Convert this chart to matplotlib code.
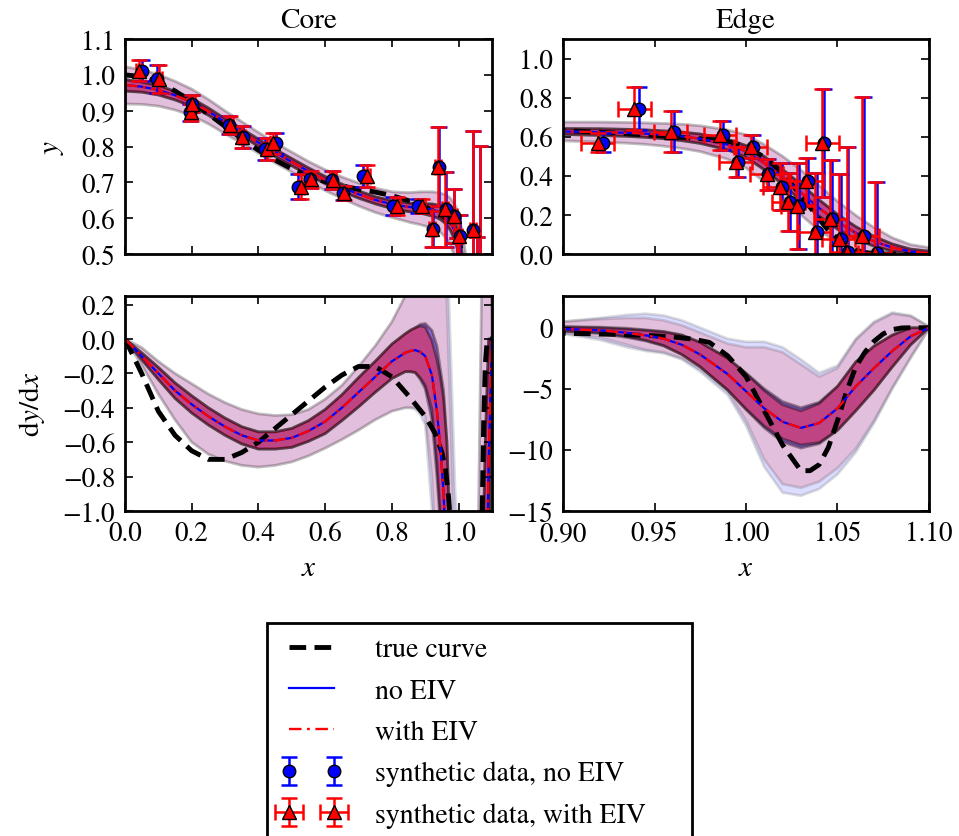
import numpy as np
import matplotlib.pyplot as plt
from matplotlib.ticker import MultipleLocator

plt.rcParams['font.family'] = 'STIXGeneral'
plt.rcParams['mathtext.fontset'] = 'stix'
plt.rcParams['font.size'] = 20
plt.rcParams['axes.linewidth'] = 2
plt.rcParams['lines.scale_dashes'] = False

# synthetic measurements (shared by the core and edge views)
x_pts = [0.050, 0.097, 0.195, 0.200, 0.313, 0.353, 0.420, 0.453, 0.520, 0.555,
         0.620, 0.654, 0.714, 0.804, 0.879, 0.922, 0.9417, 0.9608, 0.9873, 0.9958,
         1.0037, 1.0122, 1.0195, 1.024, 1.029, 1.034, 1.0386, 1.0428, 1.0471,
         1.0517, 1.056, 1.0645, 1.0714]
x_pts_eiv = [0.042, 0.102, 0.198, 0.202, 0.315, 0.350, 0.425, 0.445, 0.527, 0.557,
             0.625, 0.656, 0.724, 0.814, 0.889, 0.919, 0.939, 0.9589, 0.9858, 0.9945,
             1.0026, 1.0113, 1.0185, 1.023, 1.028, 1.033, 1.0376, 1.0418, 1.0461,
             1.0507, 1.055, 1.0635, 1.0704]
y_pts = [1.012, 0.988, 0.895, 0.920, 0.859, 0.826, 0.793, 0.809, 0.688, 0.708,
         0.706, 0.671, 0.718, 0.634, 0.634, 0.570, 0.744, 0.625, 0.607, 0.471,
         0.549, 0.407, 0.344, 0.266, 0.248, 0.373, 0.112, 0.567, 0.181,
         0.078, 0.008, 0.092, 0.004]
y_err = [0.030, 0.040, 0.025, 0.025, 0.025, 0.030, 0.030, 0.030, 0.035, 0.025,
         0.025, 0.020, 0.030, 0.025, 0.020, 0.050, 0.110, 0.105, 0.075, 0.075,
         0.060, 0.080, 0.120, 0.150, 0.220, 0.120, 0.300, 0.275, 0.300,
         0.330, 0.540, 0.710, 0.365]
x_err = 0.009

# true profile and its slope
x_true = [0.0, 0.05, 0.1, 0.15, 0.2, 0.25, 0.3, 0.35, 0.4, 0.45, 0.5, 0.55, 0.6,
          0.65, 0.7, 0.75, 0.8, 0.85, 0.9, 0.93, 0.95, 0.96, 0.97, 0.975, 0.98,
          0.99, 1.0, 1.01, 1.02, 1.03, 1.035, 1.04, 1.045, 1.05, 1.055, 1.06,
          1.065, 1.07, 1.075, 1.08, 1.085, 1.09, 1.1]
y_true = [1.0, 0.995, 0.979, 0.955, 0.925, 0.891, 0.856, 0.822, 0.790, 0.762,
          0.738, 0.718, 0.702, 0.690, 0.681, 0.673, 0.663, 0.649, 0.632, 0.618,
          0.607, 0.601, 0.594, 0.590, 0.586, 0.575, 0.550, 0.495, 0.415, 0.300,
          0.240, 0.178, 0.122, 0.078, 0.044, 0.021, 0.008, 0.002, 0.0, 0.0,
          0.0, 0.0, 0.0]
dy_true = [0.0, -0.2, -0.42, -0.56, -0.65, -0.7, -0.7, -0.66, -0.6, -0.52,
           -0.44, -0.36, -0.28, -0.21, -0.16, -0.16, -0.22, -0.33, -0.45, -0.55,
           -0.66, -0.75, -0.92, -1.05, -1.2, -2.3, -4.0, -6.8, -9.6, -11.7,
           -11.7, -11.2, -9.8, -7.6, -5.2, -3.2, -2.0, -1.1, -0.5, -0.15,
           -0.02, 0.0, 0.0]

# profile fits evaluated on a common grid
x_fit = [0.0, 0.05, 0.1, 0.15, 0.2, 0.25, 0.3, 0.35, 0.4, 0.45, 0.5, 0.55, 0.6,
         0.65, 0.7, 0.75, 0.8, 0.84, 0.855, 0.87, 0.885, 0.9, 0.92, 0.935, 0.945,
         0.955, 0.965, 0.975, 0.99, 1.0, 1.01, 1.02, 1.03, 1.04, 1.05, 1.06,
         1.07, 1.08, 1.09, 1.1]
y_fit = [0.972, 0.967, 0.958, 0.943, 0.924, 0.898, 0.868, 0.840, 0.811, 0.783,
         0.757, 0.731, 0.707, 0.686, 0.667, 0.651, 0.639, 0.633, 0.631, 0.630,
         0.629, 0.627, 0.624, 0.620, 0.616, 0.610, 0.602, 0.590, 0.560, 0.525,
         0.465, 0.395, 0.315, 0.235, 0.165, 0.108, 0.065, 0.033, 0.013, 0.005]
y_in = [0.016, 0.014, 0.013, 0.012, 0.011, 0.010, 0.010, 0.010, 0.010, 0.010,
        0.010, 0.010, 0.010, 0.010, 0.010, 0.010, 0.011, 0.012, 0.012, 0.013,
        0.014, 0.015, 0.017, 0.018, 0.019, 0.020, 0.022, 0.024, 0.027, 0.030,
        0.034, 0.038, 0.042, 0.042, 0.038, 0.032, 0.025, 0.018, 0.012, 0.010]
y_out = [0.052, 0.048, 0.044, 0.040, 0.037, 0.034, 0.032, 0.030, 0.029, 0.028,
         0.028, 0.028, 0.029, 0.030, 0.032, 0.034, 0.036, 0.040, 0.042, 0.044,
         0.046, 0.048, 0.051, 0.053, 0.055, 0.058, 0.062, 0.066, 0.075, 0.085,
         0.095, 0.105, 0.115, 0.115, 0.105, 0.090, 0.070, 0.050, 0.035, 0.028]

dy_fit = [0.0, -0.1, -0.2, -0.3, -0.38, -0.45, -0.51, -0.56, -0.59, -0.59,
          -0.575, -0.535, -0.48, -0.4, -0.31, -0.22, -0.13, -0.08, -0.07, -0.065,
          -0.075, -0.1, -0.21, -0.42, -0.62, -0.9, -1.4, -2.2, -3.8, -5.2,
          -6.6, -7.7, -8.2, -7.8, -6.6, -4.8, -3.3, -1.9, -0.7, 0.0]
dy_in = [0.0, 0.02, 0.035, 0.045, 0.05, 0.05, 0.05, 0.05, 0.05, 0.05,
         0.055, 0.06, 0.07, 0.075, 0.085, 0.09, 0.1, 0.11, 0.12, 0.13,
         0.16, 0.19, 0.26, 0.38, 0.45, 0.6, 0.8, 1.0, 1.3, 1.5,
         1.6, 1.65, 1.65, 1.7, 1.8, 2.0, 1.8, 1.3, 0.7, 0.0]
dy_in_eiv = [0.0, 0.02, 0.035, 0.045, 0.05, 0.05, 0.05, 0.05, 0.05, 0.05,
             0.055, 0.06, 0.07, 0.075, 0.085, 0.09, 0.1, 0.11, 0.12, 0.13,
             0.15, 0.17, 0.2, 0.3, 0.4, 0.55, 0.8, 1.0, 1.3, 1.45,
             1.45, 1.4, 1.4, 1.6, 1.8, 2.0, 1.8, 1.3, 0.7, 0.0]
dy_out_hi = [0.0, -0.05, -0.13, -0.2, -0.26, -0.32, -0.37, -0.41, -0.435, -0.445,
             -0.44, -0.41, -0.35, -0.27, -0.16, -0.04, 0.1, 0.25, 0.32, 0.4,
             0.45, 0.5, 0.8, 1.05, 1.15, 1.0, 0.6, 0.0, -0.9, -1.15,
             -1.15, -1.6, -2.6, -3.7, -3.1, -0.9, 0.5, 1.25, 1.0, 0.1]
dy_out_hi_eiv = [0.0, -0.05, -0.13, -0.2, -0.26, -0.32, -0.37, -0.41, -0.435, -0.445,
                 -0.44, -0.41, -0.35, -0.27, -0.16, -0.04, 0.1, 0.25, 0.32, 0.4,
                 0.45, 0.5, 0.7, 0.8, 0.8, 0.6, 0.2, -0.4, -1.3, -1.6,
                 -1.6, -2.0, -3.0, -4.0, -3.3, -1.0, 0.4, 1.15, 0.95, 0.1]
dy_out_lo = [0.0, -0.15, -0.32, -0.47, -0.6, -0.67, -0.71, -0.735, -0.745, -0.735,
             -0.715, -0.68, -0.635, -0.585, -0.53, -0.47, -0.42, -0.4, -0.4, -0.41,
             -0.44, -0.5, -1.0, -1.6, -1.9, -2.1, -2.6, -3.6, -5.5, -8.0,
             -11.4, -13.5, -13.75, -13.2, -12.0, -10.2, -7.8, -5.0, -2.5, -0.1]
dy_out_lo_eiv = [0.0, -0.15, -0.32, -0.47, -0.6, -0.67, -0.71, -0.735, -0.745, -0.735,
                 -0.715, -0.68, -0.635, -0.585, -0.53, -0.47, -0.42, -0.4, -0.4, -0.4,
                 -0.42, -0.45, -0.8, -1.4, -1.8, -2.0, -2.5, -3.4, -5.2, -7.6,
                 -10.8, -12.8, -13.1, -12.6, -11.5, -9.9, -7.6, -4.9, -2.4, -0.1]

panels = {
    'Core': dict(xlim=(0.0, 1.1), xstep=0.2, ylims=[(0.5, 1.1), (-1.0, 0.25)],
                 ysteps=[0.1, 0.2]),
    'Edge': dict(xlim=(0.9, 1.1), xstep=0.05, ylims=[(0.0, 1.1), (-15.0, 2.6)],
                 ysteps=[0.2, 5.0]),
}

true_style = dict(color='k', lw=3.5, dashes=(12, 6))
blue_style = dict(color='b', lw=1.6)
red_style = dict(color='r', lw=1.7, dashes=(9, 4, 2, 4))


def draw_band(ax, x, lo_in, hi_in, lo_out, hi_out, color):
    ax.fill_between(x, lo_out, hi_out, facecolor=color, edgecolor='k',
                    alpha=0.4 / 3, lw=2)
    ax.fill_between(x, lo_in, hi_in, facecolor=color, edgecolor='k',
                    alpha=0.4, lw=2)


fig = plt.figure(figsize=(9.59, 8.37), dpi=100)
positions = {'Core': 0.1303, 'Edge': 0.5871}
widths = {'Core': 0.3827, 'Edge': 0.3816}

xf = np.array(x_fit)
yf = np.array(y_fit)
dyf = np.array(dy_fit)

for name, opts in panels.items():
    ax_y = fig.add_axes([positions[name], 0.6953, widths[name], 0.2569])
    ax_d = fig.add_axes([positions[name], 0.3883, widths[name], 0.2569])

    # profile
    for col in ['b', 'r']:
        draw_band(ax_y, xf, yf - np.array(y_in), yf + np.array(y_in),
                  yf - np.array(y_out), yf + np.array(y_out), col)
    l_true, = ax_y.plot(x_true, y_true, **true_style)
    l_blue, = ax_y.plot(xf, yf, **blue_style)
    l_red, = ax_y.plot(xf, yf, **red_style)
    e_blue = ax_y.errorbar(x_pts, y_pts, yerr=y_err, fmt='o', color='b',
                           ecolor='b', mfc='b', mec='k', ms=9, capsize=6,
                           elinewidth=1.8, capthick=1.8)
    e_red = ax_y.errorbar(x_pts_eiv, y_pts, xerr=x_err, yerr=y_err, fmt='^',
                          color='r', ecolor='r', mfc='r', mec='k', ms=10,
                          capsize=6, elinewidth=1.8, capthick=1.8)
    ax_y.set_title(name, fontsize=21, pad=9)

    # slope
    draw_band(ax_d, xf, dyf - np.array(dy_in), dyf + np.array(dy_in),
              dy_out_lo, dy_out_hi, 'b')
    draw_band(ax_d, xf, dyf - np.array(dy_in_eiv), dyf + np.array(dy_in_eiv),
              dy_out_lo_eiv, dy_out_hi_eiv, 'r')
    ax_d.plot(x_true, dy_true, **true_style)
    ax_d.plot(xf, dyf, **blue_style)
    ax_d.plot(xf, dyf, **red_style)
    ax_d.set_xlabel('$x$', fontsize=21, labelpad=7)

    for ax, ylim, ystep in zip([ax_y, ax_d], opts['ylims'], opts['ysteps']):
        ax.set_xlim(*opts['xlim'])
        ax.set_ylim(*ylim)
        ax.xaxis.set_major_locator(MultipleLocator(opts['xstep']))
        ax.yaxis.set_major_locator(MultipleLocator(ystep))
        ax.tick_params(direction='in', top=True, right=True, length=6,
                       width=1.2, labelsize=19.5, pad=7)
    ax_y.tick_params(labelbottom=False)

    if name == 'Core':
        ax_y.set_ylabel('$y$', fontsize=21, labelpad=11)
        ax_d.set_ylabel(r'$\mathrm{d}y/\mathrm{d}x$', fontsize=21, labelpad=11)

leg = fig.legend([l_true, l_blue, l_red, e_blue, e_red],
                 ['true curve', 'no EIV', 'with EIV',
                  'synthetic data, no EIV', 'synthetic data, with EIV'],
                 loc='upper left', mode='expand', borderaxespad=0,
                 bbox_to_anchor=(267 / 959, 1 - 624 / 837, 425 / 959, 0),
                 numpoints=2, fontsize=20, fancybox=False, framealpha=1,
                 edgecolor='k', handlelength=2.2, handletextpad=1.2,
                 labelspacing=0.57, borderpad=0.5)
leg.get_frame().set_linewidth(2)

fig.savefig('out.png', dpi=100)
